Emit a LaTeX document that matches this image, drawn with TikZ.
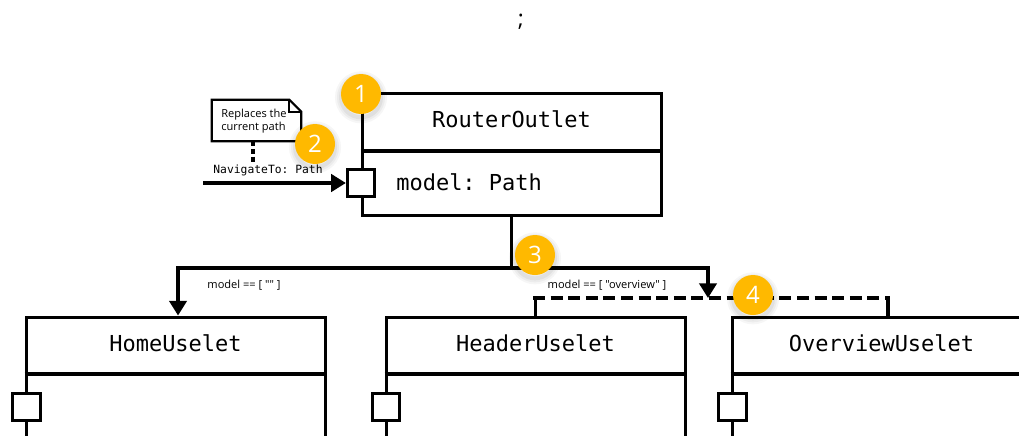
\documentclass[tikz,border=0pt]{standalone}
\usepackage{fontspec}
\setmainfont{Open Sans}
\setmonofont{DejaVu Sans Mono}
\newfontfamily\labelfont{Open Sans}
\usetikzlibrary{arrows.meta}
\definecolor{badgeyellow}{HTML}{FFB900}
\begin{document}
\begin{tikzpicture}[x=0.75pt,y=-0.75pt,
  compbox/.style={draw, line width=2.25pt, fill=white, inner sep=0pt, minimum width=224.25pt},
  comptitle/.style={inner sep=0pt, font=\ttfamily\fontsize{16.5}{20}\selectfont},
  port/.style={draw, fill=white, line width=2.25pt, minimum size=20.5pt, inner sep=0pt},
  wire/.style={line width=2.4pt},
  arrowwire/.style={wire, -{Triangle[length=11pt,width=13pt]}},
  bus/.style={line width=3pt, dash pattern=on 9pt off 4.2pt},
  cond/.style={inner sep=0pt, font=\labelfont\fontsize{8.3}{10}\selectfont},
  notebox/.style={inner sep=0pt, minimum width=66.75pt, minimum height=30.75pt, align=left, font=\labelfont\fontsize{8.3}{9.8}\selectfont},
  noteline/.style={line width=1.6pt, line join=miter},
  notedash/.style={line width=2.4pt, dash pattern=on 3.6pt off 2.2pt},
  badge/.style={circle, fill=badgeyellow, minimum size=30pt, inner sep=0pt, text=white,
    font=\labelfont\fontsize{18}{18}\selectfont,
    preaction={draw=black, draw opacity=0.035, line width=9pt, transform canvas={yshift=-2.5pt}},
    preaction={draw=black, draw opacity=0.04, line width=6pt, transform canvas={yshift=-2.5pt}},
    preaction={draw=black, draw opacity=0.05, line width=3pt, transform canvas={yshift=-2.5pt}}}
]
\useasboundingbox (0,0) rectangle (1019,435);
\clip (0,0) rectangle (1019,435);

% separator
\node[inner sep=0pt, font=\labelfont\fontsize{17}{17}\selectfont] (semi) at (521,22) {;};

% router component
\node[compbox, minimum height=91.5pt] (router) at (511.5,154) {};
\draw[wire] (router.west |- 0,151) -- (router.east |- 0,151);
\node[comptitle] (routertitle) at (511.5,119) {RouterOutlet};
\node[comptitle, anchor=west] (routermodel) at (396,182) {model: Path};
\node[port] (rport) at (361,183) {};

% child components
\node[compbox, minimum height=105pt] (home) at (175.5,387) {};
\node[compbox, minimum height=105pt] (header) at (535.5,387) {};
\node[compbox, minimum height=105pt] (overview) at (881.5,387) {};
\foreach \c in {home,header,overview}{
  \draw[wire] (\c.west |- 0,374) -- (\c.east |- 0,374);
}
\node[comptitle] (hometitle) at (175.5,343) {HomeUselet};
\node[comptitle] (headertitle) at (535.5,343) {HeaderUselet};
\node[comptitle] (overviewtitle) at (881.5,343) {OverviewUselet};
\node[port] (homeport) at (26.5,407) {};
\node[port] (headerport) at (386,407) {};
\node[port] (overviewport) at (732.5,407) {};

% note and input
\node[notebox] (note) at (256.5,120.5) {};
\draw[noteline, fill=white] (note.north west) -- ([xshift=-9pt]note.north east)
  -- ([yshift=-9pt]note.north east) -- (note.south east) -- (note.south west) -- cycle;
\draw[noteline] ([xshift=-9pt]note.north east) |- ([yshift=-9pt]note.north east);
\node[notebox, anchor=west, minimum width=0pt] (notetext) at (221,121) {Replaces the\\current path};
\node[inner sep=0pt, font=\ttfamily\fontsize{8.5}{10}\selectfont] (navlabel) at (268,170) {NavigateTo: Path};
\draw[notedash] ([xshift=-2.6pt]note.south) -- ([xshift=-2.6pt]note.south |- navlabel.north);
\coordinate (inp) at (203,183);
\draw[arrowwire] (inp) -- (rport.west);

% routing
\coordinate (j) at (511.5,268);
\coordinate (sel) at (708,298);
\coordinate (dl) at (533,298);
\coordinate (dr) at (890,298);
\draw[wire] (router.south) -- (j);
\draw[arrowwire] (j) -| ([xshift=1.9pt]home.north);
\draw[arrowwire] (j) -| (sel);
\draw[bus] (dl) -- (dr);
\draw[wire] (header.north) -- (header.north |- dl);
\draw[wire] ([xshift=-1.5pt]dr) -- ([xshift=-1.5pt]dr |- overview.north);
\node[cond] (cond1) at (244,285) {model == [ "" ]};
\node[cond] (cond2) at (607,285) {model == [ "overview" ]};

% markers
\node[badge] (b1) at (361,94) {1};
\node[badge] (b2) at (315,144) {2};
\node[badge] (b3) at (535,255) {3};
\node[badge] (b4) at (753,295) {4};
\end{tikzpicture}
\end{document}
